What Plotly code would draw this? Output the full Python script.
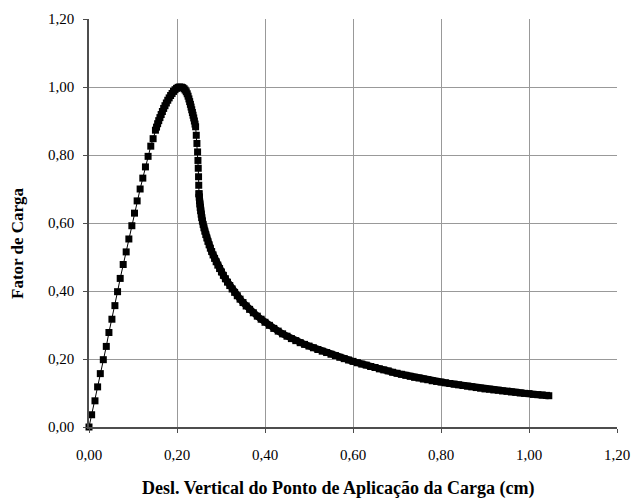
import plotly.graph_objects as go

# Load–displacement path (vertical displacement in cm, load factor)
# Pre-peak branch
x_pre = [0.0, 0.0060, 0.0136, 0.0196, 0.0257, 0.0325, 0.0393, 0.0453, 0.0521,
         0.0589, 0.0649, 0.0709, 0.0777, 0.0845, 0.0906, 0.0974, 0.1034, 0.1094,
         0.1162, 0.1223, 0.1283, 0.1343, 0.1404, 0.1457, 0.1510]
y_pre = [0.0, 0.036, 0.077, 0.118, 0.157, 0.198, 0.237, 0.278, 0.317,
         0.357, 0.398, 0.437, 0.478, 0.515, 0.553, 0.592, 0.629, 0.665,
         0.700, 0.732, 0.765, 0.796, 0.826, 0.848, 0.873]

# Limit point region
x_peak = [0.1535, 0.1560, 0.1585, 0.1612, 0.1640, 0.1668, 0.1697, 0.1727, 0.1758,
          0.1790, 0.1822, 0.1855, 0.1888, 0.1921, 0.1955, 0.1990, 0.2025, 0.2060,
          0.2100, 0.2130, 0.2160, 0.2185, 0.2210, 0.2232, 0.2252, 0.2271, 0.2288,
          0.2305, 0.2320, 0.2335, 0.2350, 0.2365, 0.2380, 0.2395, 0.2410]
y_peak = [0.882, 0.892, 0.901, 0.910, 0.919, 0.928, 0.937, 0.945, 0.953,
          0.961, 0.968, 0.975, 0.981, 0.987, 0.992, 0.996, 0.999, 1.000,
          0.9995, 0.998, 0.995, 0.991, 0.986, 0.980, 0.973, 0.965, 0.957,
          0.949, 0.941, 0.933, 0.925, 0.917, 0.909, 0.900, 0.891]

# Post-peak steep descent (separate steps)
x_drop = [0.2423, 0.2438, 0.2453, 0.2468, 0.2476, 0.2483, 0.2490, 0.2494, 0.2500]
y_drop = [0.883, 0.858, 0.834, 0.809, 0.784, 0.761, 0.736, 0.711, 0.686]

# Post-peak softening (closely spaced steps)
x_soft = [0.2500, 0.2505, 0.2511, 0.2518, 0.2527, 0.2537, 0.2549, 0.2562, 0.2577,
          0.2594, 0.2612, 0.2632, 0.2654, 0.2678, 0.2703, 0.2730, 0.2758, 0.2788,
          0.2820, 0.2854, 0.2890, 0.2928, 0.2968, 0.3010, 0.3054, 0.3100, 0.3148,
          0.3199, 0.3253, 0.3310, 0.3370, 0.3433, 0.3500, 0.3572, 0.3650, 0.3735,
          0.3825, 0.3912]
y_soft = [0.686, 0.676, 0.666, 0.656, 0.646, 0.636, 0.626, 0.616, 0.606,
          0.596, 0.586, 0.576, 0.566, 0.556, 0.546, 0.536, 0.526, 0.516,
          0.506, 0.496, 0.486, 0.476, 0.466, 0.456, 0.446, 0.436, 0.426,
          0.416, 0.406, 0.396, 0.386, 0.376, 0.366, 0.356, 0.346, 0.336,
          0.326, 0.317]

# Softening tail
x_tail = [0.40, 0.41, 0.42, 0.43, 0.44, 0.45, 0.46, 0.47, 0.48, 0.49,
          0.50, 0.51, 0.52, 0.53, 0.54, 0.55, 0.56, 0.57, 0.58, 0.59,
          0.60, 0.61, 0.62, 0.63, 0.64, 0.65, 0.66, 0.67, 0.68, 0.69,
          0.70, 0.71, 0.72, 0.73, 0.74, 0.75, 0.76, 0.77, 0.78, 0.79,
          0.80, 0.81, 0.82, 0.83, 0.84, 0.85, 0.86, 0.87, 0.88, 0.89,
          0.90, 0.91, 0.92, 0.93, 0.94, 0.95, 0.96, 0.97, 0.98, 0.99,
          1.00, 1.01, 1.02, 1.03, 1.04, 1.045]
y_tail = [0.308, 0.299, 0.290, 0.282, 0.274, 0.267, 0.260, 0.254, 0.248, 0.243,
          0.238, 0.233, 0.228, 0.223, 0.219, 0.214, 0.210, 0.205, 0.201, 0.197,
          0.193, 0.189, 0.185, 0.182, 0.178, 0.175, 0.171, 0.168, 0.165, 0.161,
          0.158, 0.155, 0.152, 0.149, 0.146, 0.144, 0.141, 0.139, 0.136, 0.134,
          0.132, 0.130, 0.128, 0.126, 0.124, 0.122, 0.120, 0.118, 0.116, 0.114,
          0.112, 0.111, 0.109, 0.108, 0.106, 0.105, 0.103, 0.102, 0.100, 0.099,
          0.098, 0.096, 0.095, 0.094, 0.093, 0.092]

x_title = "Desl. Vertical do Ponto de Aplicação da Carga (cm)"
y_title = "Fator de Carga"

SERIF = "Liberation Serif, Times New Roman, serif"
MARK = dict(symbol="square", size=7, color="black")

fig = go.Figure()

# rising branch, limit point and first post-peak steps: thin joining line
fig.add_trace(go.Scatter(
    x=x_pre + x_peak + x_drop, y=y_pre + y_peak + y_drop,
    mode="lines+markers",
    line=dict(color="black", width=1),
    marker=MARK, showlegend=False, hoverinfo="skip",
    cliponaxis=False,
))

# dense softening branch: markers merge into a solid band
fig.add_trace(go.Scatter(
    x=x_soft + x_tail, y=y_soft + y_tail,
    mode="lines+markers",
    line=dict(color="black", width=7),
    marker=MARK, showlegend=False, hoverinfo="skip",
))

axis_common = dict(
    range=[0, 1.2],
    dtick=0.2,
    tick0=0,
    tickformat=".2f",
    showgrid=True,
    gridcolor="#999999",
    gridwidth=1,
    showline=True,
    linecolor="#4d4d4d",
    linewidth=1.5,
    ticks="outside",
    ticklen=4,
    tickcolor="#4d4d4d",
    tickfont=dict(family=SERIF, size=15, color="black"),
    zeroline=False,
    fixedrange=True,
)

fig.update_xaxes(**axis_common, ticklabelstandoff=9)
fig.update_yaxes(**axis_common, ticklabelstandoff=6)

W, H = 632, 498
ML, MR, MT, MB = 89, 15, 19, 71
plot_w = W - ML - MR
plot_h = H - MT - MB


def px_to_paper(px, py):
    """Page pixel position -> paper coordinates."""
    return (px - ML) / plot_w, (H - py - MB) / plot_h


tx, ty = px_to_paper(338, 489)
yx, yy = px_to_paper(17, 243)

fig.update_layout(
    width=W,
    height=H,
    margin=dict(l=ML, r=MR, t=MT, b=MB, autoexpand=False),
    paper_bgcolor="white",
    plot_bgcolor="white",
    separators=",.",
    font=dict(family=SERIF, color="black"),
    annotations=[
        dict(text=f"<b>{x_title}</b>", x=tx, y=ty, xref="paper", yref="paper",
             xanchor="center", yanchor="middle", showarrow=False,
             font=dict(family=SERIF, size=18, color="black")),
        dict(text=f"<b>{y_title}</b>", x=yx, y=yy, xref="paper", yref="paper",
             xanchor="center", yanchor="middle", showarrow=False, textangle=-90,
             font=dict(family=SERIF, size=17, color="black")),
    ],
)

fig.write_html("out.html")
